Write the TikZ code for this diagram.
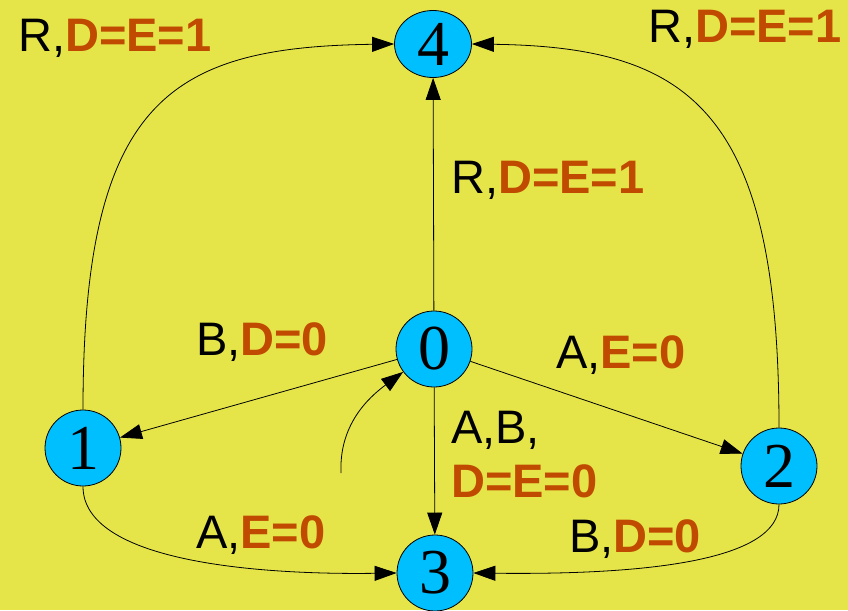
\documentclass[tikz,border=0pt]{standalone}
\usepackage{fontspec}
\setmainfont{Liberation Sans}
\newfontfamily\statefont{Liberation Serif}
\usetikzlibrary{arrows.meta,shapes.geometric}
\definecolor{bgyellow}{HTML}{E5E54A}
\definecolor{stateblue}{HTML}{00BFFF}
\definecolor{outbrown}{HTML}{C04A00}
\newcommand{\outp}[1]{\textbf{\color{outbrown}#1}}
\tikzset{
  state/.style={circle,draw,line width=0.8pt,fill=stateblue,minimum size=76pt,inner sep=0pt,
    font=\statefont\fontsize{64}{64}\selectfont},
  lbl/.style={anchor=base west,inner sep=0pt,font=\fontsize{47}{54}\selectfont},
  trans/.style={draw,line width=0.8pt,-{Triangle[length=22pt,width=15pt]}}
}
\begin{document}
\begin{tikzpicture}[x=1pt,y=-1pt]
\useasboundingbox (0,0) rectangle (848,610);
\fill[bgyellow] (0,0) rectangle (848,610);
% states
\node[state] (n0) at (434,349) {0};
\node[state] (n1) at (83,448) {1};
\node[state] (n2) at (779,466) {2};
\node[state] (n3) at (435,573) {3};
\node[state,ellipse,minimum width=77pt,minimum height=67pt] (n4) at (433,44) {4};
\coordinate (start) at (341,473);
% transitions
\draw[trans] (start) .. controls (339,425) and (368,398) .. (n0);
\draw[trans] (n0) -- (n4);
\draw[trans] (n0) -- (n1);
\draw[trans] (n0) -- (n2);
\draw[trans] (n0) -- (n3);
\draw[trans] (n1.north) .. controls (83,100) and (170,47) .. (n4.west);
\draw[trans] (n2.north) .. controls (779,110) and (690,47) .. (n4.east);
\draw[trans] (n1.south) .. controls (83,560) and (250,575) .. (n3.west);
\draw[trans] (n2.south) .. controls (779,560) and (650,575) .. (n3.east);
% labels
\node[lbl] (l14) at (18,52) {R,\outp{D=E=1}};
\node[lbl] (l24) at (648,42) {R,\outp{D=E=1}};
\node[lbl] (l04) at (451,193) {R,\outp{D=E=1}};
\node[lbl] (l01) at (196,355) {B,\outp{D=0}};
\node[lbl] (l02) at (556,368) {A,\outp{E=0}};
\node[lbl,align=left] (l03) at (451,497) {A,B,\\\outp{D=E=0}};
\node[lbl] (l13) at (196,548) {A,\outp{E=0}};
\node[lbl] (l23) at (569,552) {B,\outp{D=0}};
\end{tikzpicture}
\end{document}
